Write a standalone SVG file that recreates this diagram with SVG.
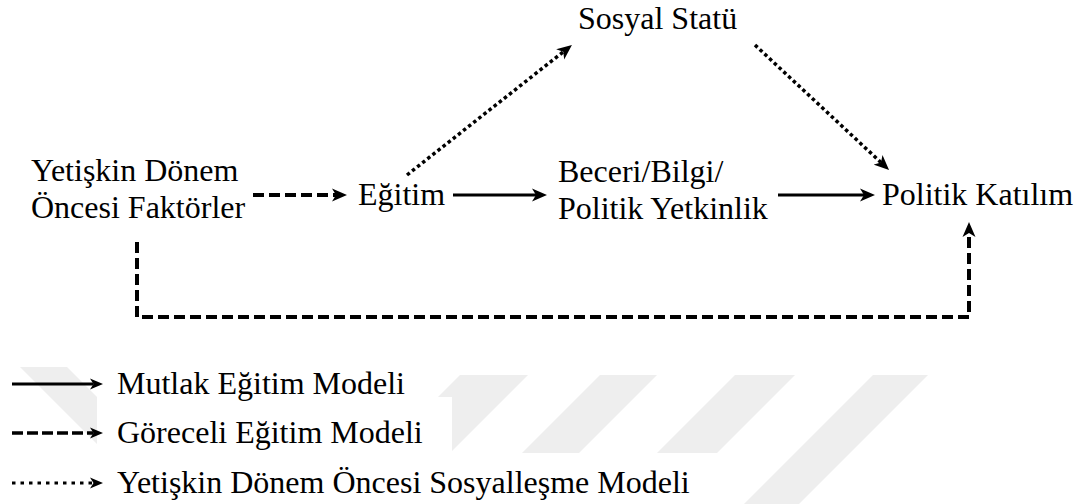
<svg xmlns="http://www.w3.org/2000/svg" width="1078" height="504" viewBox="0 0 1078 504">
<style>
.t{font-family:'Liberation Serif','Times New Roman',serif;font-size:32px;fill:#000}
.ln{fill:none;stroke:#000}
.solid{stroke-width:3.2}
.dash{stroke-width:4;stroke-dasharray:11 5}
.dot{stroke-width:3.5;stroke-dasharray:3.5 3}
.wm{fill:#eeeeee}
</style>
<defs>
<marker id="ah" markerUnits="userSpaceOnUse" markerWidth="15" markerHeight="14" viewBox="0 0 15 14" refX="4" refY="7" orient="auto"><path d="M0,0.5 L15,7 L0,13.5 L4,7 Z" fill="#000"/></marker>
<marker id="ahs" markerUnits="userSpaceOnUse" markerWidth="13" markerHeight="12" viewBox="0 0 13 12" refX="3.5" refY="6" orient="auto"><path d="M0,0.5 L13,6 L0,11.5 L3.5,6 Z" fill="#000"/></marker>
</defs>
<rect width="1078" height="504" fill="#fff"/>
<g id="watermark">
<polygon class="wm" points="20,367 67,367 204,504 157,504"/>
<polygon class="wm" points="460,375 528,375 450,453 382,453"/>
<polygon class="wm" points="600,375 657,375 579,453 522,453"/>
<polygon class="wm" points="735,375 795,375 666,504 606,504"/>
<polygon class="wm" points="873,375 928,375 799,504 744,504"/>
<rect x="97" y="397" width="355" height="56" fill="#fff"/>
<rect x="97" y="453" width="625" height="51" fill="#fff"/>
</g>
<g id="connectors">
<path class="ln dash" d="M253,195 H336" marker-end="url(#ah)"/>
<path class="ln solid" d="M453,195 H536" marker-end="url(#ah)"/>
<path class="ln solid" d="M778,195 H864" marker-end="url(#ah)"/>
<path class="ln dot" d="M407,175 L563.3,51.8" marker-end="url(#ah)"/>
<path class="ln dot" d="M755,45 L881,162.5" marker-end="url(#ah)"/>
<path class="ln dash" d="M137,242 V317 H969 V233" marker-end="url(#ah)"/>
</g>
<g id="node-yetiskin"><text class="t" x="31" y="181">Yetişkin Dönem</text><text class="t" x="31" y="218">Öncesi Faktörler</text></g>
<g id="node-egitim"><text class="t" x="358" y="205">Eğitim</text></g>
<g id="node-sosyal"><text class="t" x="578" y="29">Sosyal Statü</text></g>
<g id="node-beceri"><text class="t" x="558" y="182">Beceri/Bilgi/</text><text class="t" x="558" y="219">Politik Yetkinlik</text></g>
<g id="node-politik"><text class="t" x="882" y="205">Politik Katılım</text></g>
<g id="legend">
<path class="ln solid" d="M12,384 H93.5" marker-end="url(#ahs)"/>
<text class="t" x="117" y="394">Mutlak Eğitim Modeli</text>
<path class="ln" stroke-width="3.5" stroke-dasharray="11 4" d="M12,433 H93.5" marker-end="url(#ahs)"/>
<text class="t" x="117" y="443">Göreceli Eğitim Modeli</text>
<path class="ln" stroke-width="3" stroke-dasharray="3.5 5" d="M12,483 H93.5" marker-end="url(#ahs)"/>
<text class="t" x="117" y="493">Yetişkin Dönem Öncesi Sosyalleşme Modeli</text>
</g>
</svg>
